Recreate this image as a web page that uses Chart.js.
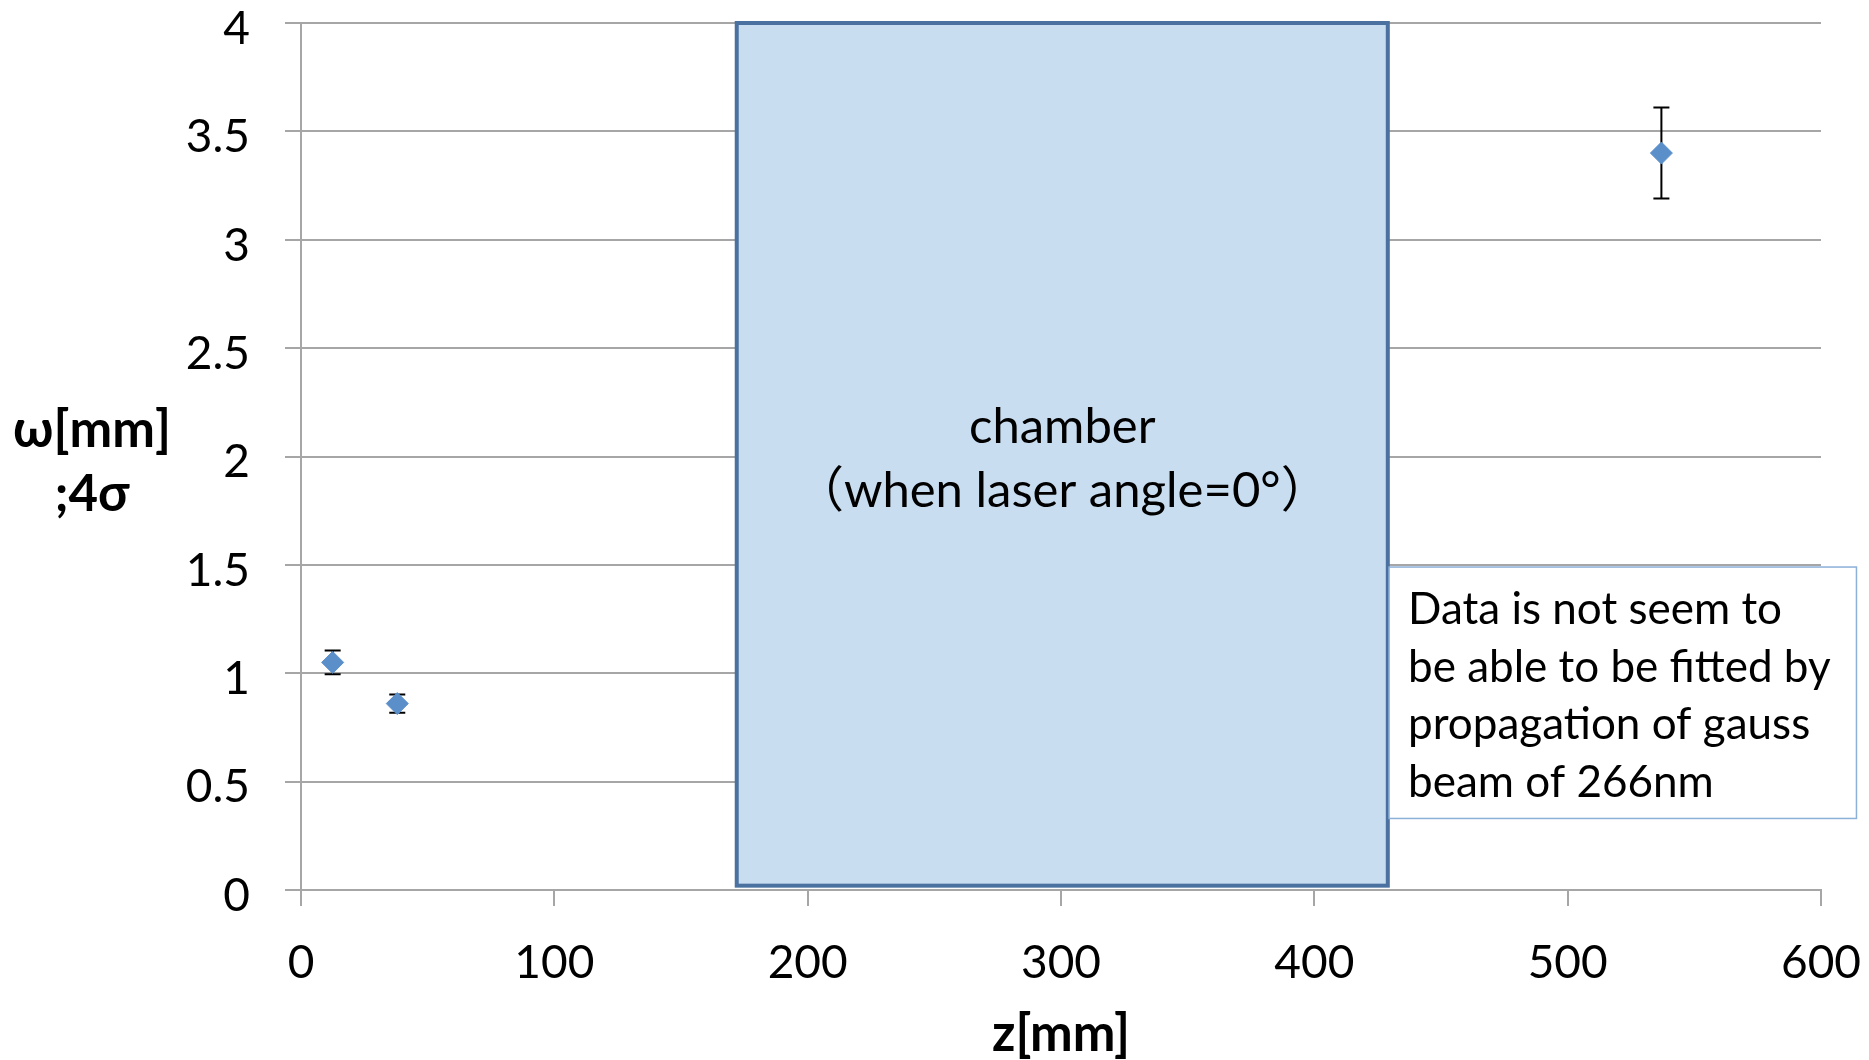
<!DOCTYPE html>
<html>
<head>
<meta charset="utf-8">
<script src="https://cdn.jsdelivr.net/npm/chart.js@4.4.0/dist/chart.umd.min.js"></script>
<style>
  html, body { margin: 0; padding: 0; background: #fff; }
  #wrap { width: 1869px; height: 1060px; position: relative; }
</style>
</head>
<body>
<div id="wrap"><canvas id="beamChart"></canvas></div>
<script>
// measured beam width (4 sigma) vs position
const zPos = [12.5, 38, 537];
const omega = [1.05, 0.86, 3.40];
const omegaErr = [0.055, 0.042, 0.21];

// chamber region (z range, drawn full height)
const chamberZ = [172, 429];
const chamberW = [0.02, 4];
const chamberText = ['chamber', '（when laser angle=0°）'];

// note box
const noteZ = [429.5, 614];
const noteW = [0.33, 1.49];
const noteLines = ['Data is not seem to', 'be able to be fitted by', 'propagation of gauss', 'beam of 266nm'];

const yTitle = ['ω[mm]', ';4σ'];

const FONT = 'Lato, "Noto Sans CJK JP", sans-serif';
Chart.defaults.font.family = FONT;
Chart.defaults.color = '#000';

const overlay = {
    id: 'overlay',
    beforeDatasetsDraw(chart) {
        const { ctx, scales: { x, y } } = chart;
        ctx.save();

        // chamber box
        const cl = x.getPixelForValue(chamberZ[0]);
        const cr = x.getPixelForValue(chamberZ[1]);
        const cb = y.getPixelForValue(chamberW[0]);
        const ct = y.getPixelForValue(chamberW[1]);
        ctx.fillStyle = '#c9ddf1';
        ctx.fillRect(cl, ct, cr - cl, cb - ct);
        ctx.lineWidth = 4;
        ctx.strokeStyle = '#4a71a0';
        ctx.strokeRect(cl, ct, cr - cl, cb - ct);

        ctx.fillStyle = '#000';
        ctx.font = '49px ' + FONT;
        ctx.textAlign = 'center';
        ctx.textBaseline = 'middle';
        const cx = (cl + cr) / 2;
        ctx.fillText(chamberText[0], cx, 427);
        ctx.fillText(chamberText[1], cx, 491);

        // note box
        const nl = x.getPixelForValue(noteZ[0]);
        const nr = x.getPixelForValue(noteZ[1]);
        const nt = y.getPixelForValue(noteW[1]);
        const nb = y.getPixelForValue(noteW[0]);
        ctx.fillStyle = '#fff';
        ctx.fillRect(nl, nt, nr - nl, nb - nt);
        ctx.lineWidth = 1.5;
        ctx.strokeStyle = '#8db0d8';
        ctx.strokeRect(nl, nt, nr - nl, nb - nt);
        ctx.fillStyle = '#000';
        ctx.font = '44px ' + FONT;
        ctx.textAlign = 'left';
        ctx.textBaseline = 'alphabetic';
        noteLines.forEach((line, i) => {
            ctx.fillText(line, nl + 19, nt + 57 + i * 57.5);
        });

        // error bars
        ctx.strokeStyle = '#000';
        ctx.lineWidth = 2;
        zPos.forEach((z, i) => {
            const px = x.getPixelForValue(z);
            const hi = y.getPixelForValue(omega[i] + omegaErr[i]);
            const lo = y.getPixelForValue(omega[i] - omegaErr[i]);
            ctx.beginPath();
            ctx.moveTo(px, hi); ctx.lineTo(px, lo);
            ctx.moveTo(px - 8, hi); ctx.lineTo(px + 8, hi);
            ctx.moveTo(px - 8, lo); ctx.lineTo(px + 8, lo);
            ctx.stroke();
        });
        ctx.restore();
    },
    afterDraw(chart) {
        const { ctx } = chart;
        ctx.save();
        ctx.fillStyle = '#000';
        ctx.font = 'bold 51px ' + FONT;
        ctx.textAlign = 'center';
        ctx.textBaseline = 'middle';
        ctx.fillText(yTitle[0], 92, 431);
        ctx.fillText(yTitle[1], 92, 495);
        ctx.restore();
    }
};

new Chart(document.getElementById('beamChart'), {
    type: 'scatter',
    data: {
        datasets: [{
            label: 'ω',
            data: zPos.map((z, i) => ({ x: z, y: omega[i] })),
            pointStyle: 'rectRot',
            pointRadius: 11,
            pointHoverRadius: 11,
            backgroundColor: '#5b8fca',
            borderColor: '#5b8fca',
            borderWidth: 1
        }]
    },
    options: {
        responsive: true,
        maintainAspectRatio: false,
        animation: false,
        layout: { padding: 0 },
        plugins: { legend: { display: false }, tooltip: { enabled: false } },
        scales: {
            x: {
                type: 'linear',
                min: 0,
                max: 600,
                ticks: { stepSize: 100, padding: 30, font: { size: 46 }, color: '#000', maxRotation: 0 },
                grid: { drawOnChartArea: false, drawTicks: true, tickLength: 16, color: '#a6a6a6', lineWidth: 2 },
                border: { display: true, color: '#a6a6a6', width: 2 },
                title: { display: true, text: 'z[mm]', font: { size: 51, weight: 'bold', lineHeight: 1 }, color: '#000', padding: { top: 0, bottom: 0 } },
                afterFit: (scale) => {
                    scale.height = 170;
                    scale.paddingLeft = 0;
                    scale.paddingRight = 48;
                }
            },
            y: {
                min: 0,
                max: 4,
                ticks: { stepSize: 0.5, padding: 35, labelOffset: 6, font: { size: 46, lineHeight: 1 }, color: '#000',
                    callback: (v) => String(+v.toFixed(1)) },
                grid: { color: '#a6a6a6', lineWidth: 2, tickLength: 16 },
                border: { display: true, color: '#a6a6a6', width: 2 },
                afterFit: (scale) => {
                    scale.width = 301;
                    scale.paddingTop = 23;
                    scale.paddingBottom = 0;
                }
            }
        }
    },
    plugins: [overlay]
});
</script>
</body>
</html>
